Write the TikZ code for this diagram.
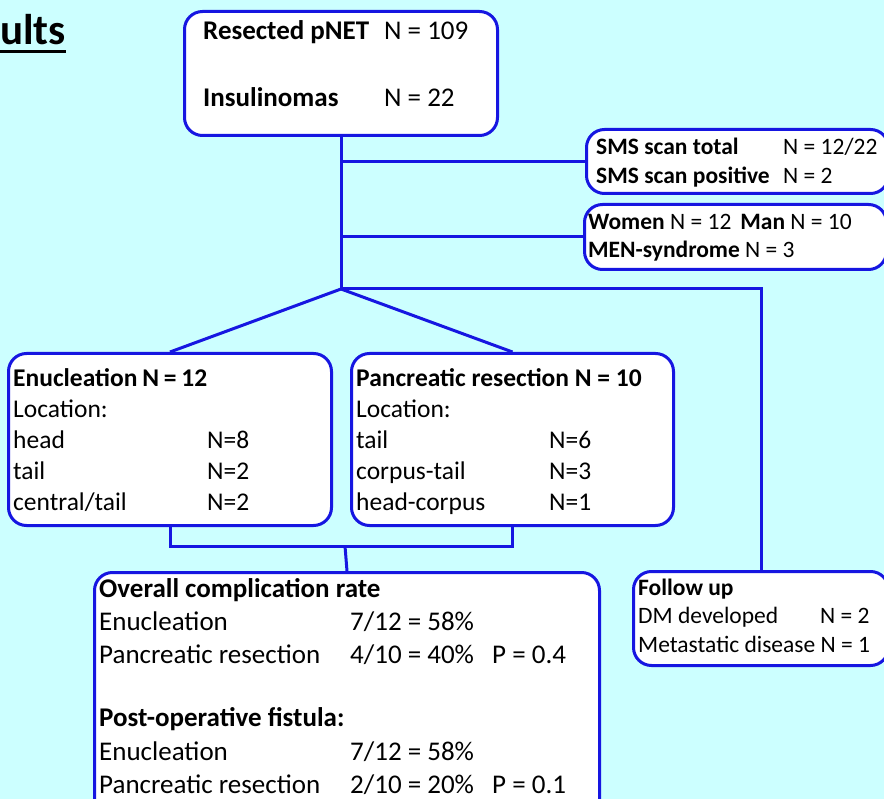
\documentclass[tikz,border=0pt]{standalone}
\usepackage{fontspec}
\setmainfont{Carlito}
\usepackage{array}
\definecolor{lineblue}{RGB}{22,22,225}
\definecolor{bgcyan}{RGB}{204,255,255}
\newcommand\thickul[1]{\setbox0\hbox{#1}\rlap{\rule[-8pt]{\wd0}{2.8pt}}\box0}
\tikzset{
  box/.style={draw=lineblue, line width=3pt, rounded corners=18pt, fill=white, anchor=north west, inner sep=0pt},
  link/.style={draw=lineblue, line width=3pt},
  txt/.style={anchor=base west, inner sep=0pt, align=left}
}

\begin{document}
\begin{tikzpicture}[x=1pt,y=-1pt]
        \fill[bgcyan] (0,0) rectangle (884,799);
        \clip (0,0) rectangle (884,799);

        % title, cut at the left border
        \node[txt] (title) at (0,45) {\fontsize{43}{48}\selectfont\bfseries\thickul{ults}};

        % boxes
        \node[box, minimum width=313pt, minimum height=124pt] (top) at (183,10) {};
        \node[box, minimum width=302pt, minimum height=64pt] (sms) at (585,128) {};
        \node[box, minimum width=302pt, minimum height=65pt] (sex) at (583,203) {};
        \node[box, minimum width=323pt, minimum height=172pt] (enuc) at (7,352) {};
        \node[box, minimum width=322pt, minimum height=172pt] (panc) at (350,352) {};
        \node[box, minimum width=505pt, minimum height=260pt] (compl) at (93,571) {};
        \node[box, minimum width=255pt, minimum height=94pt] (follow) at (632,570) {};

        % texts
        \node[txt] (top-txt) at (203,40) {\fontsize{27}{32}\selectfont\bfseries
          \begin{tabular}[t]{@{}p{181pt}@{}l@{}}
            Resected pNET & \mdseries N = 109\\[35pt]
            Insulinomas & \mdseries N = 22
          \end{tabular}};
        \node[txt] (sms-txt) at (596,155) {\fontsize{23.5}{29}\selectfont
          \begin{tabular}[t]{@{}p{187pt}@{}l@{}}
            \textbf{SMS scan total} & N = 12/22\\
            \textbf{SMS scan positive} & N = 2
          \end{tabular}};
        \node[txt] (sex-txt) at (588,230) {\fontsize{23.5}{28}\selectfont
          \begin{tabular}[t]{@{}l@{}}
            \textbf{Women} N = 12\hspace{9pt}\textbf{Man} N = 10\\
            \textbf{MEN-syndrome} N = 3
          \end{tabular}};
        \node[txt] (enuc-txt) at (13,387) {\fontsize{25.5}{30.8}\selectfont
          \begin{tabular}[t]{@{}p{194pt}@{}l@{}}
            \textbf{Enucleation\hspace{5pt}N = 12} & \\
            Location: & \\
            head & N=8\\
            tail & N=2\\
            central/tail & N=2
          \end{tabular}};
        \node[txt] (panc-txt) at (356,387) {\fontsize{25.5}{30.8}\selectfont
          \begin{tabular}[t]{@{}p{193pt}@{}l@{}}
            \multicolumn{2}{@{}l@{}}{\textbf{Pancreatic resection N = 10}}\\
            Location: & \\
            tail & N=6\\
            corpus-tail & N=3\\
            head-corpus & N=1
          \end{tabular}};
        \node[txt] (compl-txt) at (99,597) {\fontsize{27}{33}\selectfont
          \begin{tabular}[t]{@{}p{251pt}@{}p{142pt}@{}l@{}}
            \multicolumn{3}{@{}l@{}}{\textbf{Overall complication rate}}\\
            Enucleation & 7/12 = 58\% & \\
            Pancreatic resection & 4/10 = 40\% & P = 0.4\\[31pt]
            \multicolumn{3}{@{}l@{}}{\textbf{Post-operative fistula:}}\\
            Enucleation & 7/12 = 58\% & \\
            Pancreatic resection & 2/10 = 20\% & P = 0.1
          \end{tabular}};
        \node[txt] (follow-txt) at (638,595) {\fontsize{23.5}{28.5}\selectfont
          \begin{tabular}[t]{@{}p{182pt}@{}l@{}}
            \multicolumn{2}{@{}l@{}}{\textbf{Follow up}}\\
            DM developed & N = 2\\
            \multicolumn{2}{@{}l@{}}{Metastatic disease N = 1}
          \end{tabular}};

        % connectors
        \coordinate (split) at (341,289);
        \coordinate (join) at (345,546);
        \path[link] (top.south -| split) -- (split);
        \path[link] (split |- sms.west) -- (sms.west);
        \path[link] (split |- sex.west) -- (sex.west);
        \path[link] (split) -- (enuc.north);
        \path[link] (split) -- (panc.north);
        \path[link] (split) -| (follow.north);
        \path[link] (enuc.south) |- (join) -| (panc.south);
        \path[link] (join) -- (compl.north);
\end{tikzpicture}
\end{document}
